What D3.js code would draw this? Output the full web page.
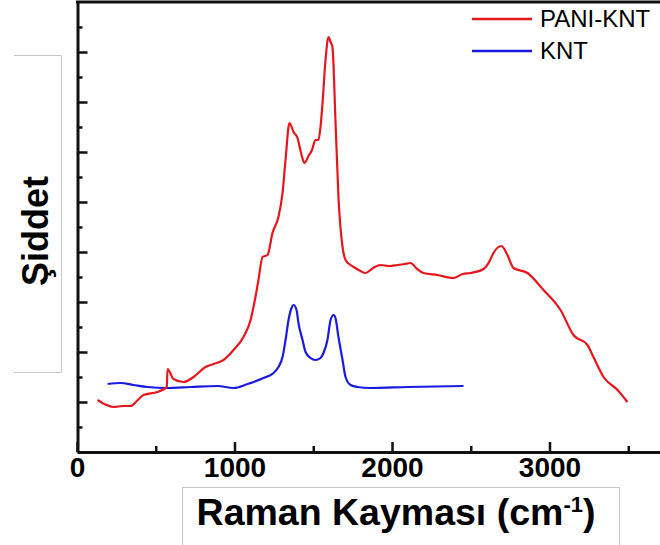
<!DOCTYPE html>
<html>
<head>
<meta charset="utf-8">
<script src="https://cdn.jsdelivr.net/npm/d3@7"></script>
<style>
  body { margin: 0; background: #fff; }
  svg { display: block; font-family: "Liberation Sans", Arial, sans-serif; }
</style>
</head>
<body>
<div id="chart"></div>
<script>
// PANI-KNT spectrum: [Raman shift (cm-1), intensity (a.u.)]
var paniKnt = [
  [130, 1.04], [180, 0.95], [232, 0.90], [290, 0.92], [340, 0.92], [380, 1.02],
  [422, 1.14], [511, 1.20], [562, 1.28], [570, 1.30], [575, 1.66], [613, 1.46],
  [676, 1.40], [740, 1.50], [816, 1.70], [867, 1.76], [930, 1.84], [994, 2.04],
  [1057, 2.30], [1102, 2.64], [1133, 3.10], [1152, 3.44], [1178, 3.90], [1210, 3.94],
  [1241, 4.38], [1279, 4.70], [1305, 5.18], [1324, 5.84], [1349, 6.58], [1375, 6.40],
  [1400, 6.28], [1425, 5.95], [1444, 5.78], [1470, 5.92], [1492, 6.04], [1514, 6.24],
  [1533, 6.24], [1546, 6.50], [1559, 6.98], [1578, 7.84], [1597, 8.30], [1610, 8.20],
  [1622, 8.10], [1641, 6.64], [1660, 5.10], [1686, 4.10], [1705, 3.84], [1737, 3.74],
  [1756, 3.70], [1800, 3.62], [1832, 3.58], [1880, 3.68], [1927, 3.74], [1980, 3.72],
  [2035, 3.74], [2080, 3.76], [2117, 3.78], [2160, 3.66], [2200, 3.58], [2289, 3.54],
  [2390, 3.48], [2450, 3.56], [2498, 3.58], [2581, 3.66], [2620, 3.82], [2644, 3.98],
  [2695, 4.12], [2733, 3.94], [2771, 3.68], [2860, 3.58], [2962, 3.24], [3070, 2.84],
  [3152, 2.34], [3241, 2.14], [3279, 1.90], [3343, 1.50], [3432, 1.24], [3495, 1.00]
];

// KNT spectrum
var knt = [
  [194, 1.36], [276, 1.38], [359, 1.34], [448, 1.30], [575, 1.28], [721, 1.30],
  [892, 1.32], [994, 1.28], [1083, 1.36], [1184, 1.48], [1248, 1.58], [1279, 1.70],
  [1305, 1.90], [1324, 2.24], [1343, 2.64], [1362, 2.88], [1375, 2.94], [1394, 2.84],
  [1406, 2.58], [1432, 2.24], [1451, 2.00], [1483, 1.88], [1514, 1.84], [1546, 1.88],
  [1565, 1.98], [1590, 2.24], [1610, 2.64], [1629, 2.74], [1641, 2.68], [1660, 2.30],
  [1686, 1.84], [1705, 1.50], [1737, 1.34], [1781, 1.30], [1863, 1.28], [2100, 1.30],
  [2454, 1.32]
];

var xTicks = [0, 1000, 2000, 3000];
var xMinorTicks = [500, 1500, 2500, 3500];
var yTicks = [1, 2, 3, 4, 5, 6, 7, 8];
var yMinorTicks = [0.5, 1.5, 2.5, 3.5, 4.5, 5.5, 6.5, 7.5, 8.5];
var seriesNames = ["PANI-KNT", "KNT"];
var seriesColors = ["#e8161b", "#1a1ae0"];

var width = 660, height = 545;
var x = d3.scaleLinear().domain([0, 4000]).range([77, 707]);
var y = d3.scaleLinear().domain([0, 9]).range([452, 2]);

var svg = d3.select("#chart").append("svg")
  .attr("width", width)
  .attr("height", height);

// gray text boxes around the axis titles
svg.append("path")
  .attr("d", "M14,55.5H61.5V372.5H14")
  .attr("fill", "none")
  .attr("stroke", "#c8c8c8")
  .attr("stroke-width", 1);

svg.append("rect")
  .attr("x", 182.5)
  .attr("y", 487.5)
  .attr("width", 437)
  .attr("height", 70)
  .attr("fill", "none")
  .attr("stroke", "#c8c8c8")
  .attr("stroke-width", 1);

// data lines
var line = d3.line()
  .curve(d3.curveMonotoneX)
  .x(function (d) { return x(d[0]); })
  .y(function (d) { return y(d[1]); });

svg.append("path")
  .datum(knt)
  .attr("fill", "none")
  .attr("stroke", seriesColors[1])
  .attr("stroke-width", 2.2)
  .attr("stroke-linejoin", "round")
  .attr("d", line);

svg.append("path")
  .datum(paniKnt)
  .attr("fill", "none")
  .attr("stroke", seriesColors[0])
  .attr("stroke-width", 2.2)
  .attr("stroke-linejoin", "round")
  .attr("d", line);

// axes: ticks point inward, no labels on y
var xAxis = d3.axisBottom(x).tickValues(xTicks).tickSize(-10).tickSizeOuter(0)
  .tickPadding(22).tickFormat(d3.format("d"));
var xMinor = d3.axisBottom(x).tickValues(xMinorTicks).tickSize(-6).tickSizeOuter(0).tickFormat("");
var yAxis = d3.axisLeft(y).tickValues(yTicks).tickSize(-10).tickSizeOuter(0).tickFormat("");
var yMinor = d3.axisLeft(y).tickValues(yMinorTicks).tickSize(-5).tickSizeOuter(0).tickFormat("");

svg.append("g")
  .attr("transform", "translate(0,452)")
  .call(xMinor)
  .call(g => g.select(".domain").remove())
  .call(g => g.selectAll(".tick line").attr("stroke", "#111").attr("stroke-width", 2.5));

svg.append("g")
  .attr("transform", "translate(0,452)")
  .call(xAxis)
  .call(g => g.select(".domain").attr("stroke", "#111").attr("stroke-width", 3))
  .call(g => g.selectAll(".tick line").attr("stroke", "#111").attr("stroke-width", 2.5))
  .call(g => g.selectAll(".tick text")
    .attr("fill", "#000")
    .style("font-size", "28px")
    .style("font-weight", "bold")
    .attr("dy", "0.1em"));

svg.append("g")
  .attr("transform", "translate(77.5,0)")
  .call(yMinor)
  .call(g => g.select(".domain").remove())
  .call(g => g.selectAll(".tick line").attr("stroke", "#111").attr("stroke-width", 2.5));

svg.append("g")
  .attr("transform", "translate(77.5,0)")
  .call(yAxis)
  .call(g => g.select(".domain").attr("stroke", "#111").attr("stroke-width", 3))
  .call(g => g.selectAll(".tick line").attr("stroke", "#111").attr("stroke-width", 2.5));

// top frame line
svg.append("line")
  .attr("x1", 76)
  .attr("x2", width)
  .attr("y1", y(9))
  .attr("y2", y(9))
  .attr("stroke", "#111")
  .attr("stroke-width", 3);

// axis titles
svg.append("text")
  .attr("transform", "translate(48,231) rotate(-90)")
  .attr("text-anchor", "middle")
  .style("font-size", "36px")
  .style("font-weight", "bold")
  .text("Şiddet");

var xTitle = svg.append("text")
  .attr("x", 396)
  .attr("y", 525)
  .attr("text-anchor", "middle")
  .style("font-size", "37.5px")
  .style("font-weight", "bold");
xTitle.append("tspan").text("Raman Kayması (cm");
xTitle.append("tspan").attr("dy", -13).style("font-size", "22px").text("-1");
xTitle.append("tspan").attr("dy", 13).text(")");

// legend
var legend = svg.append("g")
  .selectAll("g")
  .data(seriesNames)
  .join("g")
  .attr("transform", (d, i) => "translate(472," + (19 + i * 32) + ")");

legend.append("line")
  .attr("x1", 0)
  .attr("x2", 60)
  .attr("stroke", (d, i) => seriesColors[i])
  .attr("stroke-width", 2.5);

legend.append("text")
  .attr("x", 68)
  .attr("y", 8)
  .style("font-size", "24px")
  .text(d => d);
</script>
</body>
</html>
